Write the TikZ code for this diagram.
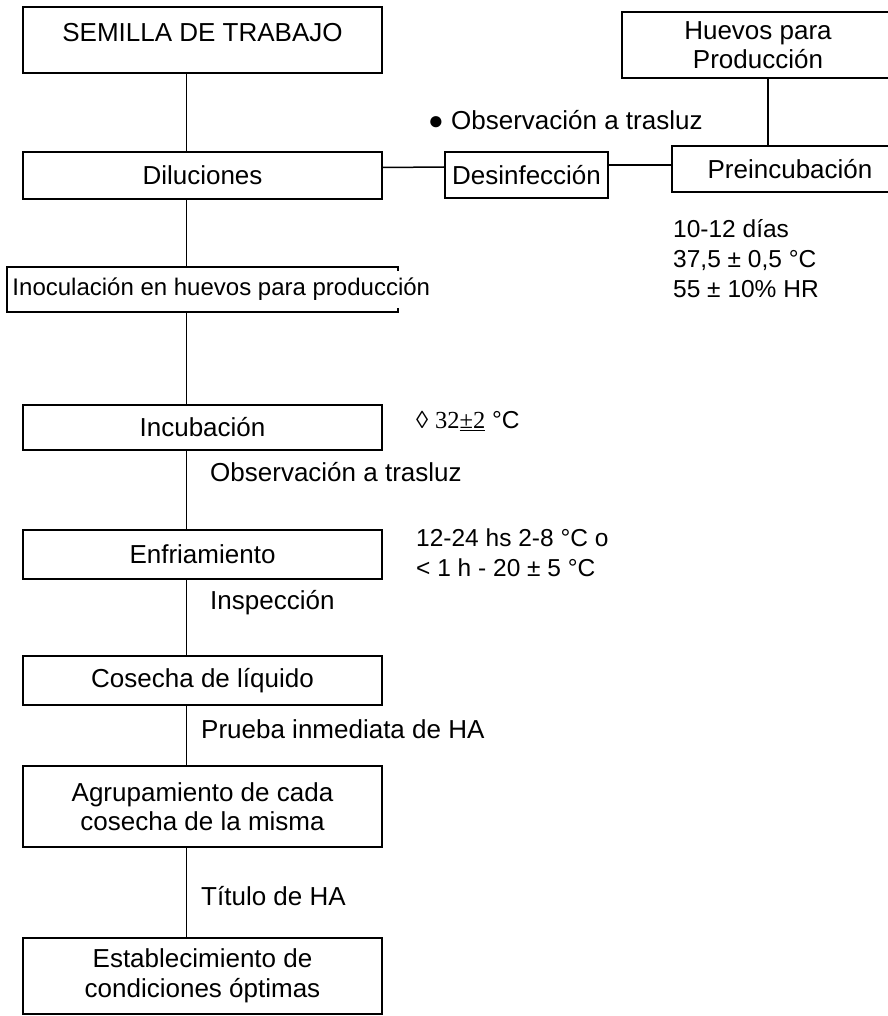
\documentclass[tikz,border=0pt]{standalone}
\usepackage{fontspec}
\setmainfont{Liberation Sans}
\newfontfamily\seriffont{Liberation Serif}
\usetikzlibrary{calc}

\begin{document}
\begin{tikzpicture}[x=1pt,y=-1pt,
	box/.style={draw,line width=1.8pt,minimum width=359pt,inner sep=0pt,align=center,font=\fontsize{26}{29.5}\selectfont},
	note/.style={anchor=west,inner sep=0pt,align=left,font=\fontsize{26}{30}\selectfont},
	cond/.style={note,font=\fontsize{24.5}{30}\selectfont},
	link/.style={line width=1.5pt}]
	%\draw[style=help lines,gray!50] (0,0) grid[step=50] (887,1016);
	\useasboundingbox (0,0) rectangle (887,1016);

	\node[box,minimum height=66pt,text height=19pt,text depth=16pt] at (202.5,40) (semilla) {SEMILLA DE TRABAJO};
	\node[box,minimum height=47pt] at (202.5,175.5) (dil) {Diluciones};
	\node[minimum width=390pt,minimum height=45pt,inner sep=0pt] at (202.5,289.5) (inoc) {};
	\node[note,font=\fontsize{24}{28}\selectfont] at ($(inoc.west)+(5,0)$) (inoctxt) {Inoculación en huevos para producción};
	\node[box,minimum height=45pt] at (202.5,427.5) (incub) {Incubación};
	\node[box,minimum height=49pt] at (202.5,554.5) (enfr) {Enfriamiento};
	\node[box,minimum height=49pt] at (202.5,680.5) (cosecha) {Cosecha de líquido};
	\node[box,minimum height=81pt] at (202.5,806.5) (agrup) {Agrupamiento de cada\\cosecha de la misma};
	\node[box,minimum height=76pt] at (202.5,976) (estab) {Establecimiento de\\condiciones óptimas};

	\node[box,minimum width=272pt,minimum height=66pt] at (758,45) (huevos) {Huevos para\\Producción};
	\node[box,minimum width=163pt,minimum height=46pt] at (526.5,175) (desinf) {Desinfección};
	\node[box,minimum width=236pt,minimum height=46pt] at (790,169) (preinc) {Preincubación};

	\node[note] at (428,120) (obsluz) {● Observación a trasluz};
	\node[cond] at (673,259) (precond) {10-12 días\\37,5 ± 0,5 °C\\55 ± 10\% HR};
	\node[cond] at (416,421) (inccond) {◊ {\seriffont 32\underline{±2}} °C};
	\node[note] at (210,472) (obsinc) {Observación a trasluz};
	\node[cond] at (416,553) (enfcond) {12-24 hs 2-8 °C o\\< 1 h - 20 ± 5 °C};
	\node[note] at (210,603) (insp) {Inspección};
	\node[note] at (201,729) (prueba) {Prueba inmediata de HA};
	\node[note] at (201,896) (titulo) {Título de HA};

	\draw[line width=1.8pt] ($(inoc.north east)+(0,4)$) -- (inoc.north east) -- (inoc.north west) -- (inoc.south west) -- (inoc.south east) -- ($(inoc.south east)+(0,-4)$);

	\draw[link] ($(semilla.south)+(-16,0)$) -- ($(dil.north)+(-16,0)$);
	\draw[link] ($(dil.south)+(-16,0)$) -- ($(inoc.north)+(-16,0)$);
	\draw[link] ($(inoc.south)+(-16,0)$) -- ($(incub.north)+(-16,0)$);
	\draw[link] ($(incub.south)+(-16,0)$) -- ($(enfr.north)+(-16,0)$);
	\draw[link] ($(enfr.south)+(-16,0)$) -- ($(cosecha.north)+(-16,0)$);
	\draw[link] ($(cosecha.south)+(-16,0)$) -- ($(agrup.north)+(-16,0)$);
	\draw[link] ($(agrup.south)+(-16,0)$) -- ($(estab.north)+(-16,0)$);

	\draw[link] ($(dil.east)+(0,-8)$) -- ($(desinf.west)+(0,-8)$);
	\draw[link] ($(desinf.east)+(0,-10)$) -- ($(preinc.west)+(0,-4)$);
	\draw[link] ($(huevos.south)+(10,0)$) -- ($(preinc.north)+(-22,0)$);
\end{tikzpicture}
\end{document}
